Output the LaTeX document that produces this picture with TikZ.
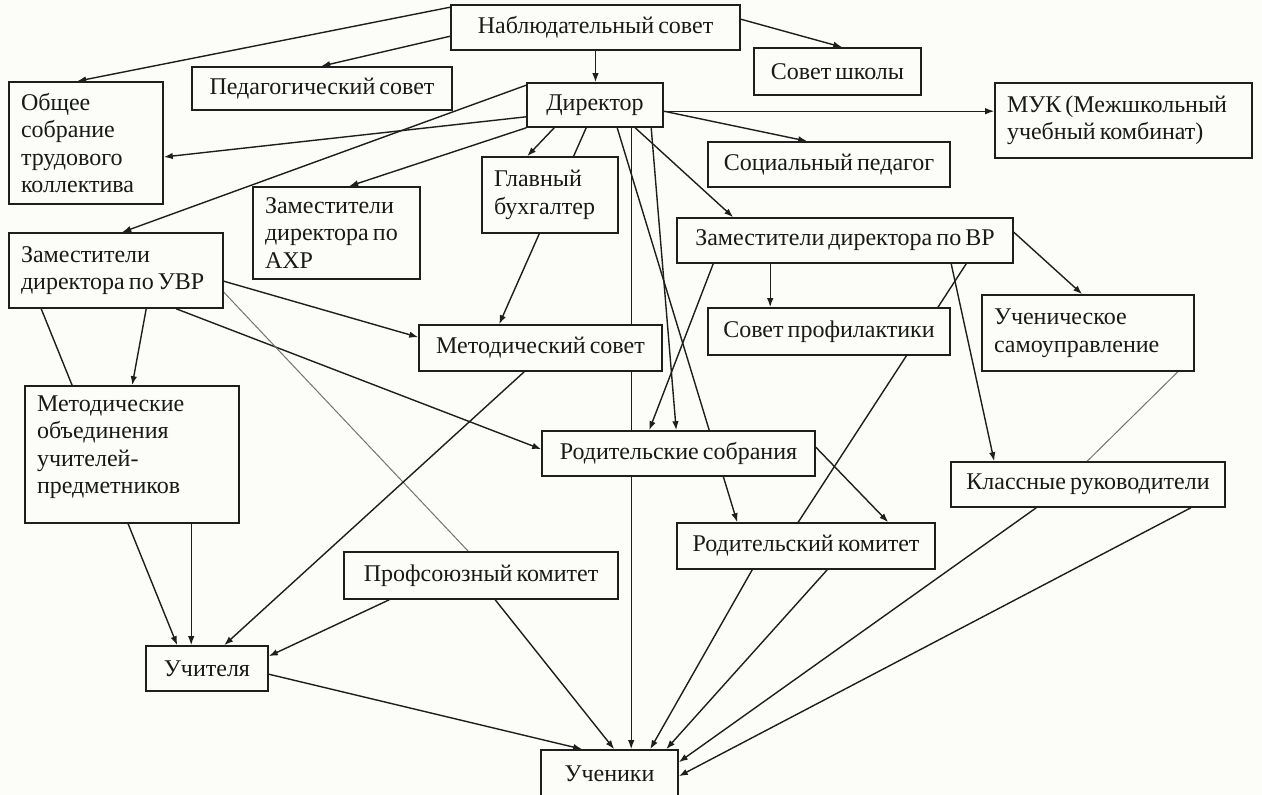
\documentclass[tikz,border=0pt]{standalone}
\usepackage{fontspec}
\setmainfont{Liberation Serif}
\usetikzlibrary{arrows.meta}
\pgfdeclarelayer{back}
\pgfdeclarelayer{lines}
\pgfsetlayers{back,lines,main}
\definecolor{bgc}{RGB}{252,252,249}
\definecolor{ink}{RGB}{30,30,30}
\newcommand\bx[7][]{%
  \pgfmathsetmacro\bxcx{(#3+#5)/2}%
  \pgfmathsetmacro\bxcy{(#4+#6)/2}%
  \pgfmathsetmacro\bxw{#5-#3}%
  \pgfmathsetmacro\bxh{#6-#4}%
  \pgfmathsetmacro\bxtw{#5-#3-24}%
  \node[box,minimum width=\bxw pt,minimum height=\bxh pt,#1] (#2) at (\bxcx,\bxcy) {#7};}
\newcommand\tightfont{\fontsize{24}{27.5}\selectfont\spaceskip=0.17em plus 0.05em\relax}
\newcommand\tsp{\spaceskip=0.17em\relax}
\tikzset{
  box/.style={draw=ink, line width=1.6pt, fill=bgc, inner xsep=12pt, inner ysep=2pt,
    font=\tightfont, text=black!90},
  lefttext/.style={text width=\bxtw pt, align=left, execute at begin node=\tsp},
  arr/.style={draw=ink, line width=1.4pt, -{Latex[length=9pt,width=6.5pt]}},
  ln/.style={draw=ink, line width=1.4pt},
  thinln/.style={draw=black!55, line width=1pt},
}
\begin{document}
\begin{tikzpicture}[x=1pt,y=-1pt]
\useasboundingbox (0,0) rectangle (1262,795);
\begin{pgfonlayer}{back}
  \fill[bgc] (0,0) rectangle (1262,795);
\end{pgfonlayer}
% boxes
\bx{N}{451}{5}{740}{50}{Наблюдательный совет}
\bx{ped}{192}{67}{452}{110}{Педагогический совет}
\bx{ssh}{754}{48}{921}{95}{Совет школы}
\bx[lefttext]{ob}{9}{82}{163}{204}{Общее\\собрание\\трудового\\коллектива}
\bx{D}{527}{83}{663}{127}{Директор}
\bx[lefttext]{muk}{995}{83}{1252}{158}{\mbox{\tsp МУК (Межшкольный}\\\mbox{\tsp учебный комбинат)}}
\bx{soc}{708}{142}{950}{187}{Социальный педагог}
\bx[lefttext]{gb}{482}{157}{618}{233}{Главный\\бухгалтер}
\bx[lefttext]{ahr}{253}{187}{420}{279}{Заместители\\\mbox{\tsp директора по}\\АХР}
\bx{zvr}{677}{218}{1013}{263}{Заместители директора по ВР}
\bx[lefttext]{uvr}{9}{233}{223}{308}{Заместители\\\mbox{\tsp директора по УВР}}
\bx{met}{419}{325}{662}{371}{Методический совет}
\bx{sp}{708}{308}{950}{355}{Совет профилактики}
\bx[lefttext]{us}{982}{295}{1194}{371}{Ученическое\\самоуправление}
\bx[lefttext]{mo}{25}{386}{239}{523}{Методические\\объединения\\учителей-\\предметников\\[-8pt]~}
\bx{rs}{542}{431}{815}{476}{Родительские собрания}
\bx{kr}{951}{462}{1225}{507}{Классные руководители}
\bx{rk}{677}{523}{935}{569}{Родительский комитет}
\bx{prof}{344}{552}{618}{599}{Профсоюзный комитет}
\bx{uchit}{146}{646}{268}{691}{Учителя}
\bx{uch}{541}{750}{678}{798}{Ученики}
% connectors
\begin{pgfonlayer}{lines}
\draw[arr] ([yshift=-3pt]N.north west) -- ([xshift=69pt]ob.north west);
\draw[arr] ([yshift=-32pt]N.north west) -- ([xshift=130pt]ped.north west);
\draw[arr] ([yshift=-15pt]N.north east) -- ([xshift=89pt]ssh.north west);
\draw[arr] (N.south) -- (N.south |- D.north);
\draw[arr] ([yshift=11pt]D.south west) -- ([yshift=-14pt]ob.east);
\draw[arr] ([yshift=-3pt]D.north west) -- ([xshift=114pt]uvr.north west);
\draw[arr] (D.south west) -- ([xshift=97pt]ahr.north west);
\draw[arr] ([xshift=28pt]D.south west) -- ([xshift=46pt]gb.north west);
\draw[arr] ([xshift=60pt]D.south west) -- ([xshift=81pt]met.north west);
\draw[arr] ([xshift=105pt]D.south west) -- ([xshift=91pt]uch.north west);
\draw[arr] ([xshift=91pt]D.south west) -- ([xshift=61pt]rk.north west);
\draw[arr] ([xshift=125pt]D.south west) -- ([xshift=135pt]rs.north west);
\draw[arr] ([xshift=109pt]D.south west) -- ([xshift=57pt]zvr.north west);
\draw[arr] ([yshift=-29pt]D.north east) -- ([xshift=100pt]soc.north west);
\draw[arr] ([yshift=-29pt]D.north east) -- ([yshift=-29pt]muk.north west);
\draw[arr] ([xshift=94pt]zvr.south west) -- ([xshift=63pt]sp.north west);
\draw[arr] ([yshift=-15pt]zvr.north east) -- ([xshift=101pt]us.north west);
\draw[arr] ([xshift=275pt]zvr.south west) -- ([xshift=44pt]kr.north west);
\draw[ln] ([xshift=290pt]zvr.south west) -- ([xshift=122pt]rk.north west);
\draw[arr] ([xshift=37pt]zvr.south west) -- ([xshift=108pt]rs.north west);
\draw[arr] ([yshift=-17pt]rs.north east) -- ([xshift=212pt]rk.north west);
\draw[thinln] ([xshift=-17pt]us.south east) -- ([xshift=137pt]kr.north west);
\draw[arr] ([xshift=86pt]kr.south west) -- ([yshift=-13pt]uch.north east);
\draw[arr] ([xshift=-35pt]kr.south east) -- ([yshift=-27pt]uch.north east);
\draw[arr] ([xshift=76pt]rk.south west) -- ([xshift=110pt]uch.north west);
\draw[arr] ([xshift=151pt]rk.south west) -- ([xshift=126pt]uch.north west);
\draw[arr] ([xshift=138pt]uvr.south west) -- ([xshift=108pt]mo.north west);
\draw[arr] ([xshift=33pt]uvr.south west) -- ([xshift=32pt]uchit.north west);
\draw[arr] ([xshift=167pt]mo.south west) -- ([xshift=46pt]uchit.north west);
\draw[arr] ([yshift=-49pt]uvr.north east) -- ([yshift=-13pt]met.north west);
\draw[arr] ([xshift=168pt]uvr.south west) -- ([yshift=-19pt]rs.north west);
\draw[thinln] ([yshift=-60pt]uvr.north east) -- ([xshift=125pt]prof.north west);
\draw[arr] ([xshift=152pt]prof.south west) -- ([xshift=74pt]uch.north west);
\draw[arr] ([xshift=46pt]prof.south west) -- ([yshift=-11pt]uchit.north east);
\draw[arr] ([xshift=106pt]met.south west) -- ([xshift=79pt]uchit.north west);
\draw[arr] ([yshift=-29pt]uchit.north east) -- ([xshift=42pt]uch.north west);
\end{pgfonlayer}
\end{tikzpicture}
\end{document}
